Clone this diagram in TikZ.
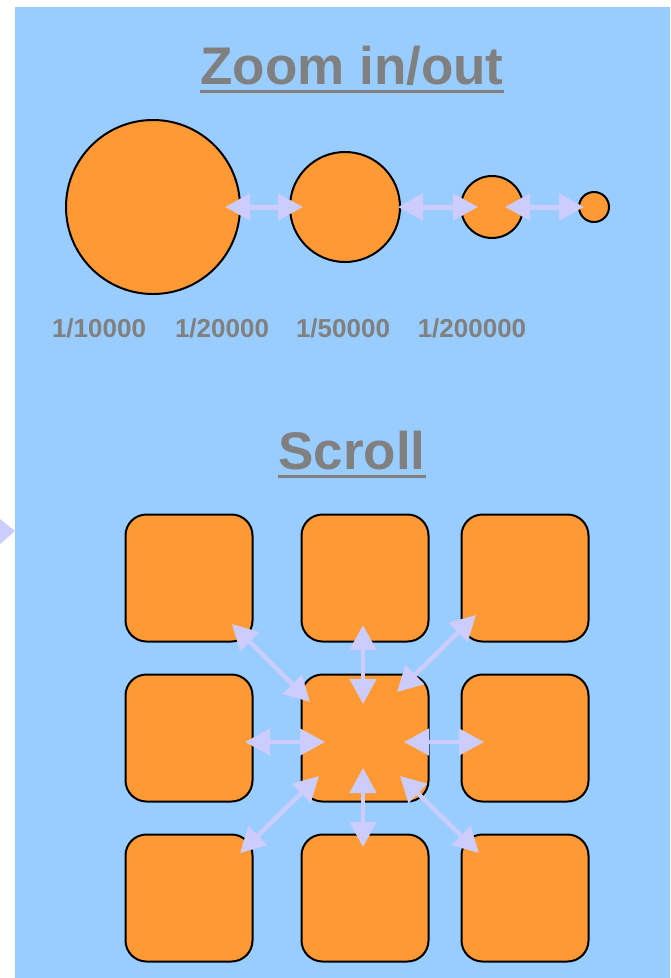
\documentclass[tikz,border=0pt]{standalone}
\usepackage{fontspec}
\setmainfont{Liberation Sans}
\usetikzlibrary{arrows.meta}
\definecolor{skyblue}{HTML}{99CCFF}
\definecolor{tangerine}{HTML}{FF9933}
\definecolor{lavender}{HTML}{CCCCFF}
\definecolor{slategray}{HTML}{808080}

\begin{document}
\begin{tikzpicture}[x=1pt,y=-1pt,font=\bfseries,>={Triangle[length=25pt,width=26pt]},
  heading/.style={inner sep=0pt,anchor=base,text=slategray,font=\bfseries\fontsize{53}{60}\selectfont},
  ul/.style={slategray,line width=3pt},
  ratio/.style={inner sep=0pt,anchor=base,text=slategray,font=\bfseries\fontsize{26}{30}\selectfont},
  disc/.style={circle,draw=black,line width=2pt,fill=tangerine,inner sep=0pt},
  tile/.style={draw=black,line width=2pt,fill=tangerine,rounded corners=21pt,minimum size=127pt,inner sep=0pt},
  flow/.style={<->,lavender,line width=4.5pt}]
\useasboundingbox (0,0) rectangle (670,978);
\fill[skyblue] (15,7) rectangle (670,978);
\fill[lavender] (0,519) -- (15,531) -- (0,544) -- cycle;

% zoom levels
\node[heading] (zoomtitle) at (352,84) {Zoom in/out};
\draw[ul] ([yshift=-7pt]zoomtitle.base west) -- ([yshift=-7pt]zoomtitle.base east);

\node[disc,minimum size=174pt] (c10k) at (153,207) {};
\node[disc,minimum size=110pt] (c20k) at (345,207) {};
\node[disc,minimum size=62pt] (c50k) at (492,207) {};
\node[disc,minimum size=30pt] (c200k) at (594,207) {};
\draw[flow,line width=5pt] ([xshift=72pt]c10k.center) -- ([xshift=-42pt]c20k.center);
\draw[flow,line width=5pt] ([xshift=53pt]c20k.center) -- ([xshift=-14pt]c50k.center);
\draw[flow,line width=5pt] ([xshift=13pt]c50k.center) -- ([xshift=-10pt]c200k.center);

\node[ratio] (r10k) at (99,337) {1/10000};
\node[ratio] (r20k) at (222,337) {1/20000};
\node[ratio] (r50k) at (343,337) {1/50000};
\node[ratio] (r200k) at (472,337) {1/200000};

% scrolling
\node[heading] (scrolltitle) at (352,469) {Scroll};
\draw[ul] ([yshift=-7pt]scrolltitle.base west) -- ([yshift=-7pt]scrolltitle.base east);

\node[tile] (tl) at (189,578) {};
\node[tile] (tm) at (365,578) {};
\node[tile] (tr) at (525,578) {};
\node[tile] (ml) at (189,738) {};
\node[tile] (mm) at (365,738) {};
\node[tile] (mr) at (525,738) {};
\node[tile] (bl) at (189,898) {};
\node[tile] (bm) at (365,898) {};
\node[tile] (br) at (525,898) {};

\draw[flow] ([shift={(-55,-36)}]mm.center) -- ([shift={(43,46)}]tl.center);
\draw[flow] ([shift={(-2,-34)}]mm.center) -- ([shift={(-2,47)}]tm.center);
\draw[flow] ([shift={(32,-46)}]mm.center) -- ([shift={(-49,37)}]tr.center);
\draw[flow] ([shift={(-40,4)}]mm.center) -- ([shift={(56,4)}]ml.center);
\draw[flow] ([shift={(39,4)}]mm.center) -- ([shift={(-41,4)}]mr.center);
\draw[flow] ([shift={(-46,38)}]mm.center) -- ([shift={(51,-45)}]bl.center);
\draw[flow] ([shift={(-2,30)}]mm.center) -- ([shift={(-2,-51)}]bm.center);
\draw[flow] ([shift={(35,38)}]mm.center) -- ([shift={(-46,-45)}]br.center);
\end{tikzpicture}
\end{document}
